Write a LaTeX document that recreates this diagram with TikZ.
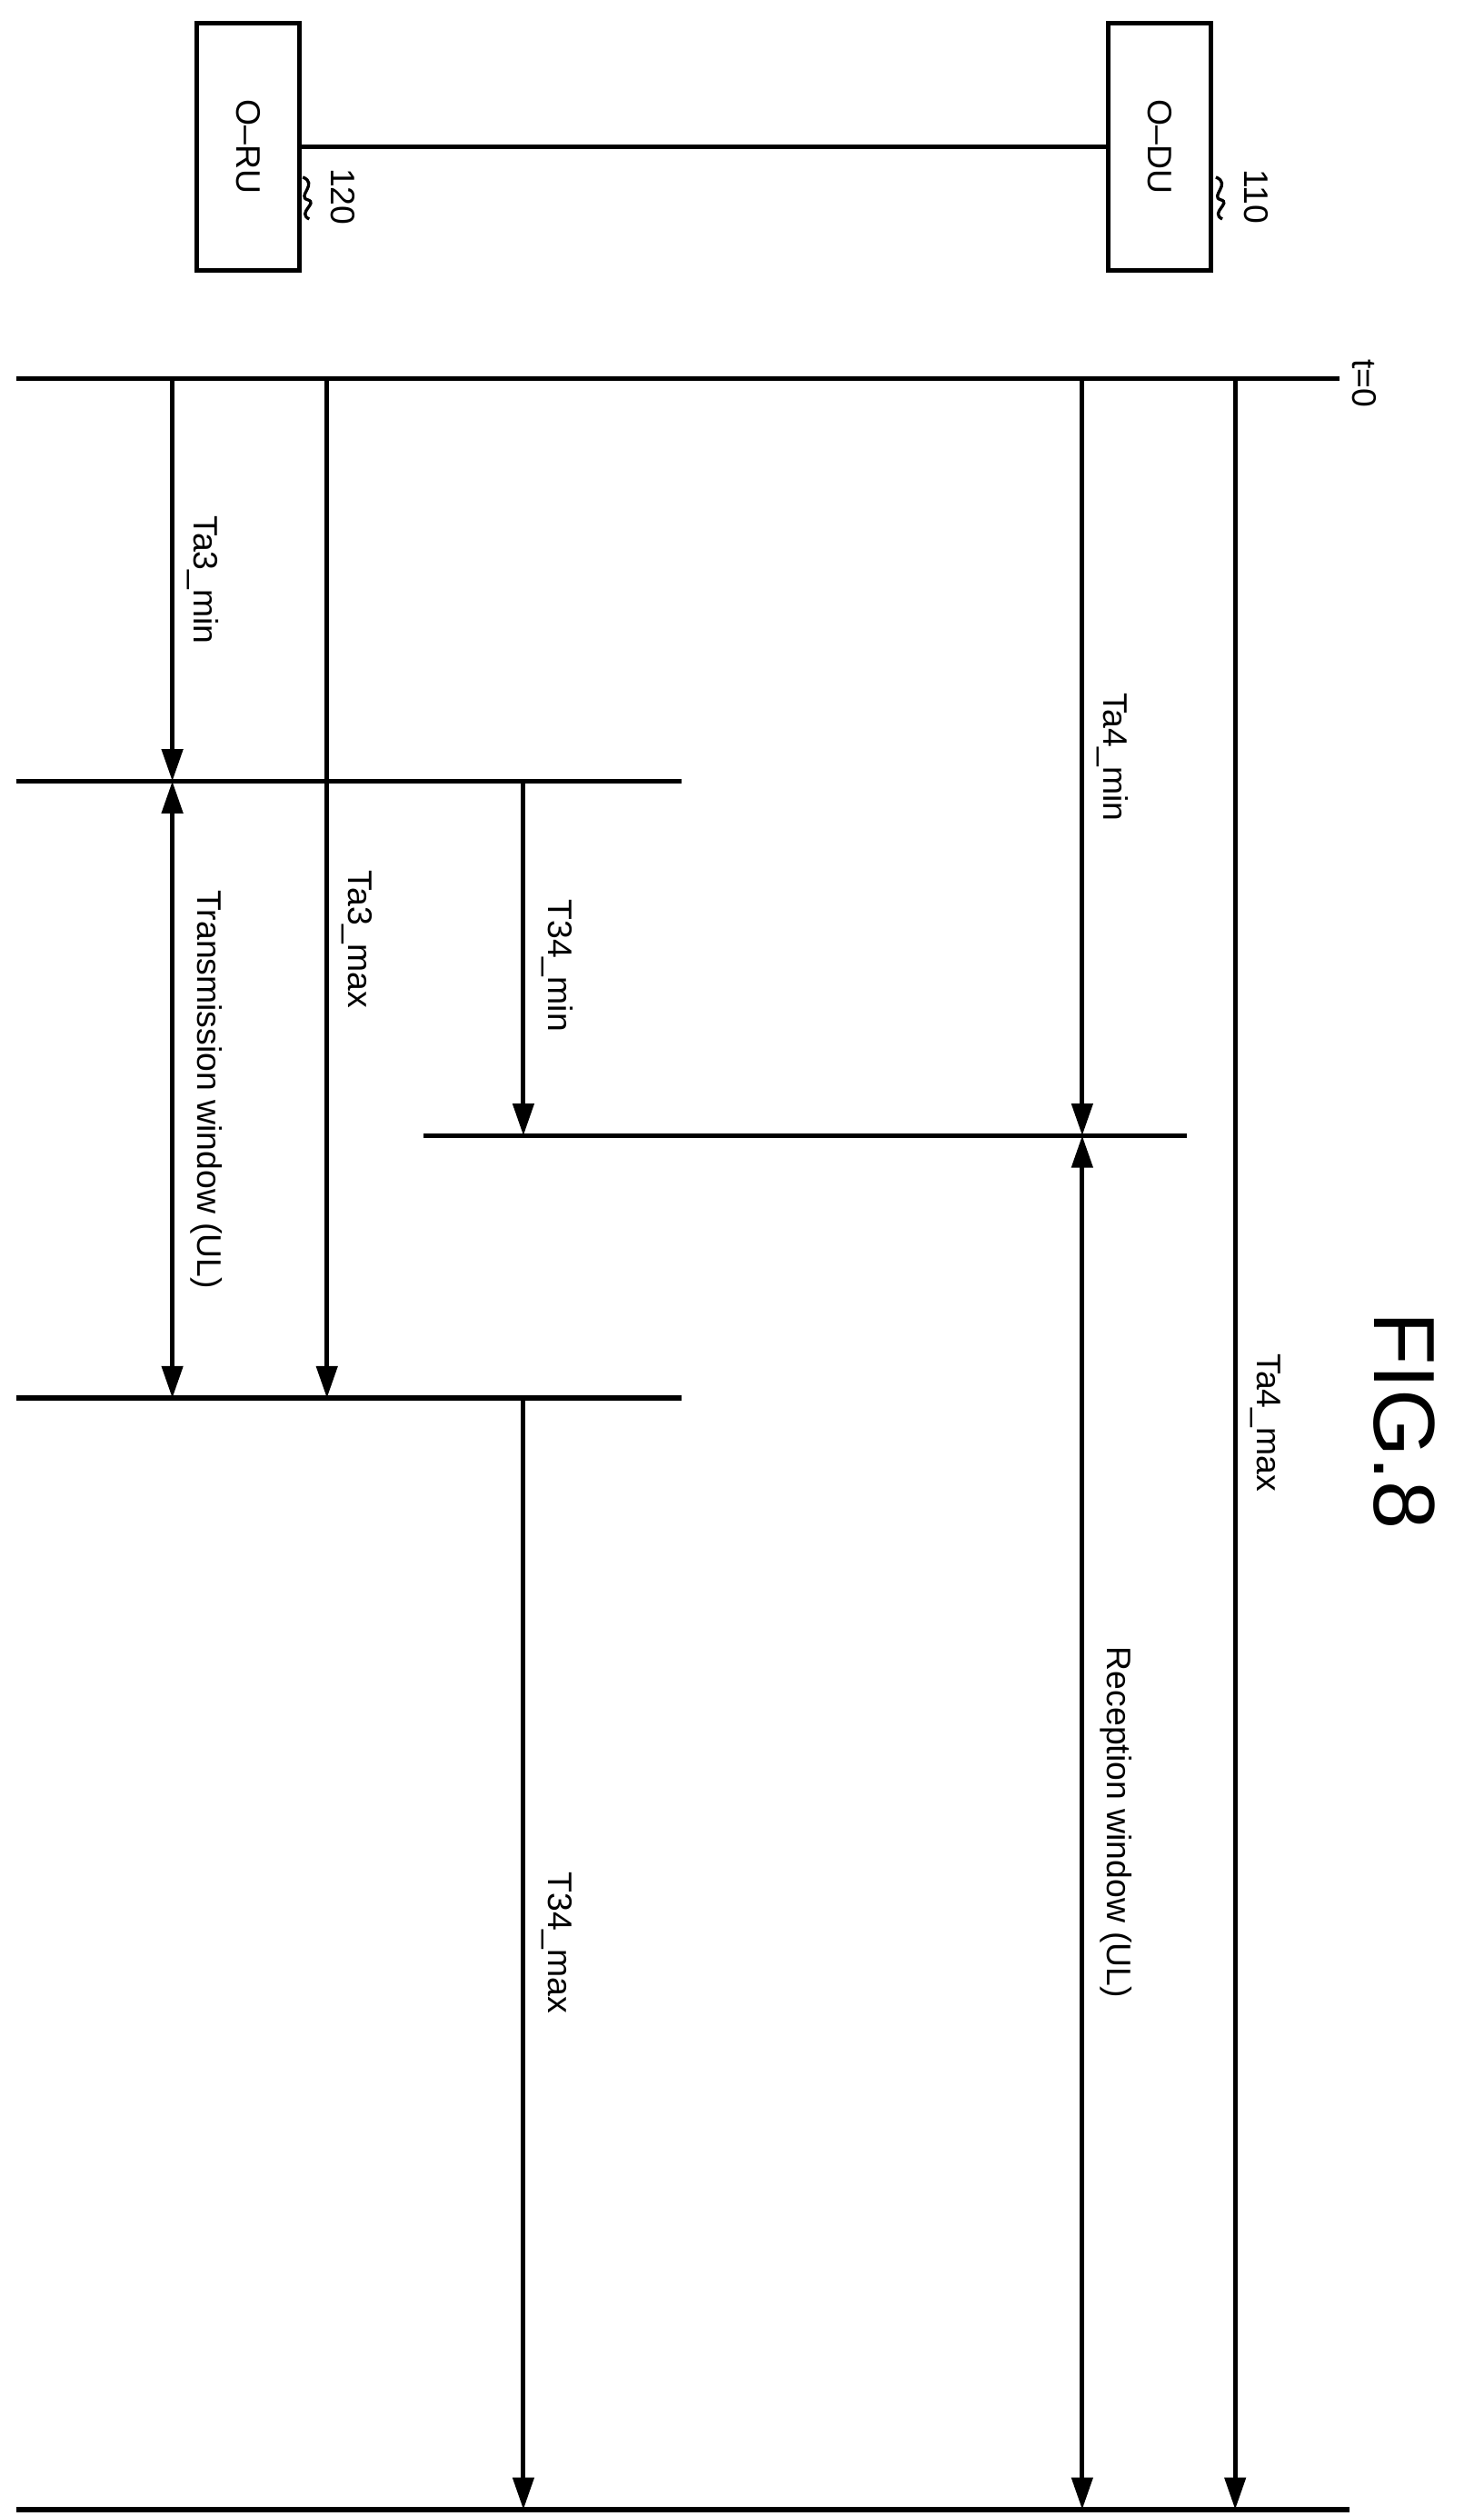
\documentclass[tikz,border=0pt]{standalone}
\usepackage{fontspec}
\setmainfont{Liberation Sans}
\usetikzlibrary{arrows.meta, decorations.pathmorphing}
\tikzset{
  lbl/.style={rotate=-90, font=\fontsize{18}{21}\selectfont, inner sep=0pt},
  unit/.style={draw, line width=2.4pt, minimum width=1.9cm, minimum height=4.6cm, font=\fontsize{18}{21}\selectfont},
  tline/.style={line width=2.6pt},
  tarrow/.style={line width=2.4pt, -{Triangle[length=17pt, width=11pt]}},
  twoway/.style={line width=2.4pt, {Triangle[length=17pt, width=11pt]}-{Triangle[length=17pt, width=11pt]}},
  squig/.style={line width=1.6pt}
}
\begin{document}
\begin{tikzpicture}[x=0.03cm, y=-0.03cm]

\useasboundingbox (0, 0) rectangle (921, 1562);

% Units
\node[unit] (ru) at (154, 91) {\rotatebox{-90}{O--RU}};
\node[unit] (du) at (720, 91) {\rotatebox{-90}{O--DU}};
\draw[line width=2.4pt] (ru.east |- 0, 91) -- (du.west |- 0, 91);
\draw[squig] (188, 110) .. controls (198, 114) and (184, 122) .. (191, 124) .. controls (198, 126) and (184, 132) .. (192, 136);
\draw[squig] (755, 110) .. controls (765, 114) and (751, 122) .. (758, 124) .. controls (765, 126) and (751, 132) .. (759, 136);
\node[lbl] (n120) at (213, 122) {120};
\node[lbl] (n110) at (780, 122) {110};

% Time lines
\coordinate (t0a) at (10, 235);   \coordinate (t0b) at (832, 235);
\coordinate (r1a) at (10, 485);   \coordinate (r1b) at (423, 485);
\coordinate (d1a) at (263, 705);  \coordinate (d1b) at (737, 705);
\coordinate (r2a) at (10, 868);   \coordinate (r2b) at (423, 868);
\coordinate (enda) at (10, 1558); \coordinate (endb) at (838, 1558);
\draw[tline] (t0a) -- (t0b);
\draw[tline] (r1a) -- (r1b);
\draw[tline] (d1a) -- (d1b);
\draw[tline] (r2a) -- (r2b);
\draw[tline] (enda) -- (endb);
\node[lbl] (t0) at (847, 238) {t=0};

% Offsets
\draw[tarrow] (107, 235) -- (107, 485) node[lbl, pos=.5, yshift=16pt] (ta3min) {Ta3\_min};
\draw[tarrow] (203, 235) -- (203, 868) node[lbl, pos=.55, yshift=16pt] (ta3max) {Ta3\_max};
\draw[tarrow] (672, 235) -- (672, 705) node[lbl, pos=.5, yshift=16pt] (ta4min) {Ta4\_min};
\draw[tarrow] (767, 235) -- (767, 1558) node[lbl, pos=.49, yshift=16pt] (ta4max) {Ta4\_max};
\draw[tarrow] (325, 485) -- (325, 705) node[lbl, pos=.52, yshift=18pt] (t34min) {T34\_min};
\draw[tarrow] (325, 868) -- (325, 1558) node[lbl, pos=.49, yshift=18pt] (t34max) {T34\_max};

% Windows
\draw[twoway] (107, 485) -- (107, 868) node[lbl, pos=.5, yshift=18pt] (txwin) {Transmission window (UL)};
\draw[twoway] (672, 705) -- (672, 1558) node[lbl, pos=.5, yshift=18pt] (rxwin) {Reception window (UL)};

\node[rotate=-90, font=\fontsize{46}{50}\selectfont] (fig) at (872, 882) {FIG.8};

\end{tikzpicture}
\end{document}
